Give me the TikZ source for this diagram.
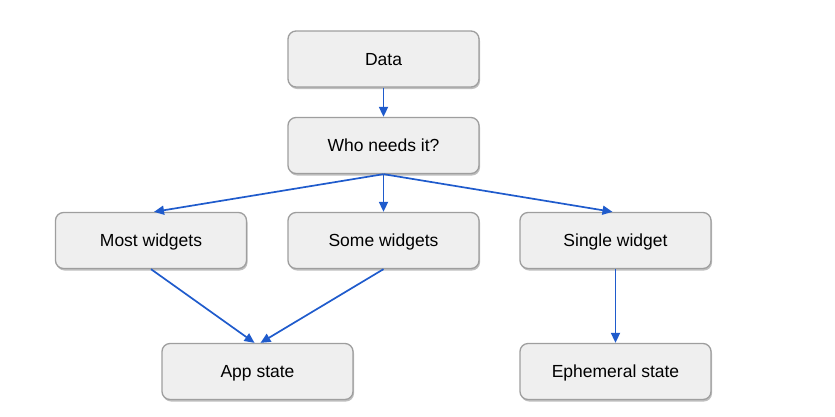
\documentclass[tikz,border=0pt]{standalone}
\usepackage{fontspec}
\setmainfont{Liberation Sans}
\usetikzlibrary{shadows,arrows.meta}
\definecolor{boxfill}{HTML}{EFEFEF}
\definecolor{boxline}{HTML}{9E9E9E}
\definecolor{arrowblue}{HTML}{1F5BCC}
\begin{document}
\begin{tikzpicture}[x=1pt,y=-1pt,
  box/.style={draw=boxline, fill=boxfill, line width=1.3pt, rounded corners=8pt,
    minimum width=191pt, minimum height=56pt, inner sep=0pt,
    text height=12pt, text depth=0pt,
    font=\fontsize{17.5}{20}\selectfont,
    drop shadow={shadow xshift=1pt, shadow yshift=-2pt, fill=black, opacity=0.25}},
  conn/.style={draw=arrowblue, line width=1.7pt, -{Triangle[length=10pt,width=9pt]}}]
\useasboundingbox (0,0) rectangle (835,416);
\node[box] (data) at (383.5,59) {Data};
\node[box] (who) at (383.5,145.5) {Who needs it?};
\node[box] (most) at (151,240.5) {Most widgets};
\node[box] (some) at (383.5,240.5) {Some widgets};
\node[box] (single) at (615.5,240.5) {Single widget};
\node[box] (app) at (257.5,371.5) {App state};
\node[box] (eph) at (615.5,371.5) {Ephemeral state};
\draw[conn] (data.south) -- (who.north);
\draw[conn] (who.south) -- ([xshift=3pt]most.north);
\draw[conn] (who.south) -- (some.north);
\draw[conn] (who.south) -- ([xshift=-3pt]single.north);
\draw[conn] (most.south) -- ([xshift=-3pt]app.north);
\draw[conn] (some.south) -- ([xshift=3pt]app.north);
\draw[conn] (single.south) -- (eph.north);
\end{tikzpicture}
\end{document}
